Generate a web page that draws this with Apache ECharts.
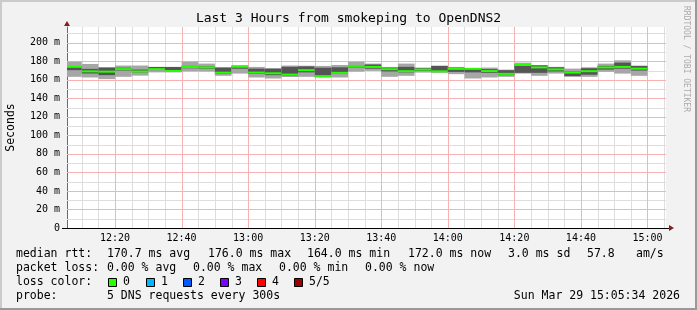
<!DOCTYPE html>
<html><head><meta charset="utf-8">
<script src="https://cdn.jsdelivr.net/npm/echarts@6/dist/echarts.min.js"></script>
<style>html,body{margin:0;padding:0;background:#f2f2f2}#c{width:697px;height:310px}</style>
</head><body><div id="c"></div>
<script>
// ---- data (ms) ----
const stepEnds = ['12:10','12:15','12:20','12:25','12:30','12:35','12:40','12:45','12:50','12:55',
  '13:00','13:05','13:10','13:15','13:20','13:25','13:30','13:35','13:40','13:45',
  '13:50','13:55','14:00','14:05','14:10','14:15','14:20','14:25','14:30','14:35',
  '14:40','14:45','14:50','14:55','15:00'];
const maxRtt = [179.6,177.1,173.5,175.4,175.4,174.0,174.0,179.6,177.5,173.5,
  175.7,173.9,172.5,175.4,175.2,175.0,176.0,179.5,177.5,173.9,
  177.5,173.2,175.2,173.9,172.8,173.2,171.0,178.5,176.0,174.0,
  172.1,173.5,177.5,181.0,175.2];
const upperRtt = [174.5,171.8,173.2,173.0,171.0,173.8,173.8,175.0,174.5,173.2,
  175.0,172.0,172.0,174.0,174.5,173.0,173.5,176.0,176.5,173.0,
  174.0,172.5,175.0,173.0,172.2,171.5,170.4,177.0,175.5,173.5,
  169.0,172.5,175.0,178.5,175.0];
const medianRtt = [174.0,169.1,168.8,171.5,169.0,171.5,169.5,173.8,173.4,167.7,
  174.1,167.8,167.0,165.6,170.4,164.0,167.5,175.0,173.9,171.4,
  169.3,171.0,169.1,171.8,171.8,169.4,166.4,176.0,173.4,171.2,
  167.8,169.3,173.4,173.9,172.0];
const lowerRtt = [170.4,166.8,165.0,170.0,168.0,170.5,168.5,172.5,172.0,166.5,
  172.0,166.5,165.0,164.5,168.0,163.0,166.5,173.5,172.0,169.0,
  168.0,169.5,168.2,168.5,168.0,167.5,165.0,167.5,167.5,169.0,
  164.0,165.5,171.0,172.0,170.0];
const minRtt = [163.2,162.5,160.7,163.2,164.5,168.0,168.0,169.0,168.9,164.3,
  166.7,162.5,161.4,163.0,163.2,162.5,162.5,168.8,169.6,163.2,
  164.3,167.8,167.8,166.1,161.4,162.5,163.2,166.7,164.3,166.7,
  163.2,163.2,168.6,166.7,164.3];
const xTickLabels = ['12:20','12:40','13:00','13:20','13:40','14:00','14:20','14:40','15:00'];
const yTickValues = [0,20,40,60,80,100,120,140,160,180,200];
const windowStart = '12:05:34';
const windowEnd = '15:05:34';
const stepMinutes = 5;
const yMaxValue = 217;

// ---- helpers ----
function toMin(s){const p=s.split(':').map(Number);return p[0]*60+p[1]+(p[2]||0)/60;}
function fmt(m){const h=Math.floor(m/60),mm=Math.round(m-h*60);return (h<10?'0':'')+h+':'+(mm<10?'0':'')+mm;}
const xStart = toMin(windowStart), xEnd = toMin(windowEnd);
const xMajor = xTickLabels.map(toMin);
const xMinor = [];
for(let m=toMin(stepEnds[0]); m<=xEnd; m+=stepMinutes){ if(xMajor.indexOf(m)<0) xMinor.push(m); }
const yMajor = yTickValues.filter(v=>v>0);
const yMinor = [];
for(let v=10; v<=210; v+=20) yMinor.push(v);

const data = stepEnds.map((t,i)=>{const e=toMin(t);return [e-stepMinutes,e,minRtt[i],lowerRtt[i],medianRtt[i],upperRtt[i],maxRtt[i]];});

const FONT = '"DejaVu Sans Mono", monospace';
const RED_GRID = '#f7b3b3';
const GREY_GRID = '#dedede';

function renderItem(params, api){
  const s=api.value(0), e=api.value(1);
  const xs=api.coord([s,0])[0], xe=api.coord([e,0])[0];
  const yMin=api.coord([s,api.value(2)])[1], yLo=api.coord([s,api.value(3)])[1];
  const yMed=api.coord([s,api.value(4)])[1], yUp=api.coord([s,api.value(5)])[1];
  const yMax=api.coord([s,api.value(6)])[1];
  const w=xe-xs;
  return {type:'group',children:[
    {type:'rect',shape:{x:xs,y:yMax,width:w,height:yMin-yMax},style:{fill:'#a6a6a6'}},
    {type:'rect',shape:{x:xs,y:yUp,width:w,height:yLo-yUp},style:{fill:'#555555'}},
    {type:'rect',shape:{x:xs,y:yMed-1,width:w,height:2},style:{fill:'#26ff00'}}
  ]};
}
// grid lines drawn through the axis scales
function gridRenderer(color, vertical){
  return function(params, api){
    const cs=params.coordSys;
    let shape;
    if(vertical){
      const x=Math.round(api.coord([api.value(0),0])[0])+0.5;
      shape={x1:x,y1:cs.y,x2:x,y2:cs.y+cs.height};
    } else {
      const y=Math.round(api.coord([xStart,api.value(1)])[1])+0.5;
      shape={x1:cs.x,y1:y,x2:cs.x+cs.width,y2:y};
    }
    return {type:'line',shape:shape,style:{stroke:color,lineWidth:1}};
  };
}

const txt=(x,y,text,extra)=>Object.assign({type:'text',x:x,y:y,z:10,style:{text:text,fill:'#000',font:'11.5px '+FONT,align:'left',verticalAlign:'middle'}},extra||{});
const lossColors=['#26ff00','#00b8ff','#0059ff','#7e00ff','#ff0000','#a10000'];
const lossLabels=['0','1','2','3','4','5/5'];
const boxX=[108,146,183,220,257,294];

const graphics=[
  {type:'rect',shape:{x:0,y:0,width:697,height:2},style:{fill:'#cbcbcb'},z:20},
  {type:'rect',shape:{x:0,y:0,width:2,height:310},style:{fill:'#cbcbcb'},z:20},
  {type:'rect',shape:{x:0,y:308,width:697,height:2},style:{fill:'#999999'},z:20},
  {type:'rect',shape:{x:695,y:0,width:2,height:310},style:{fill:'#999999'},z:20},
  {type:'polygon',shape:{points:[[64,26],[70,26],[67,21]]},style:{fill:'#8b1c1c'},z:10},
  {type:'polygon',shape:{points:[[669,225],[669,231],[674,228]]},style:{fill:'#8b1c1c'},z:10},
  {type:'line',shape:{x1:62,y1:228.5,x2:670,y2:228.5},style:{stroke:'#000',lineWidth:1},z:9},
  {type:'text',x:348.5,y:19,z:10,style:{text:'Last 3 Hours from smokeping to OpenDNS2',fill:'#000',font:'13px '+FONT,align:'center',verticalAlign:'middle'}},
  {type:'text',x:11,y:127.5,rotation:Math.PI/2,z:10,style:{text:'Seconds',fill:'#000',font:'11.5px '+FONT,align:'center',verticalAlign:'middle'}},
  {type:'text',x:686.5,y:59,rotation:-Math.PI/2,z:10,style:{text:'RRDTOOL / TOBI OETIKER',fill:'#ababab',font:'8px '+FONT,align:'center',verticalAlign:'middle'}},
  txt(16,254,'median rtt:'), txt(107,254,'170.7 ms avg'), txt(208,254,'176.0 ms max'), txt(307,254,'164.0 ms min'),
  txt(408,254,'172.0 ms now'), txt(508,254,'3.0 ms sd'), txt(587,254,'57.8'), txt(636,254,'am/s'),
  txt(16,268,'packet loss:'), txt(107,268,'0.00 % avg'), txt(193,268,'0.00 % max'), txt(279,268,'0.00 % min'), txt(365,268,'0.00 % now'),
  txt(16,282,'loss color:'),
  txt(16,296,'probe:'), txt(107,296,'5 DNS requests every 300s'),
  {type:'text',x:680,y:296,z:10,style:{text:'Sun Mar 29 15:05:34 2026',fill:'#000',font:'11.5px '+FONT,align:'right',verticalAlign:'middle'}}
];
lossColors.forEach((c,i)=>{
  graphics.push({type:'rect',shape:{x:boxX[i]+0.5,y:278.5,width:8,height:8},style:{fill:c,stroke:'#000',lineWidth:1},z:10});
  graphics.push(txt(boxX[i]+15,282,lossLabels[i]));
});

const chart=echarts.init(document.getElementById('c'),null,{renderer:'canvas'});
chart.setOption({
  animation:false,
  backgroundColor:'#f2f2f2',
  grid:{left:67,right:31,top:27,bottom:82,show:true,backgroundColor:'#ffffff',borderWidth:0},
  xAxis:{type:'value',min:xStart,max:xEnd,
     axisLine:{show:false},
     axisTick:{show:false,customValues:xMajor},
     axisLabel:{customValues:xMajor,formatter:fmt,color:'#000',fontFamily:'DejaVu Sans Mono',fontSize:10,margin:5},
     splitLine:{show:false}},
  yAxis:{type:'value',min:0,max:yMaxValue,
     axisLine:{show:true,lineStyle:{color:'#6a6a6a',width:1}},
     axisTick:{show:false,customValues:yTickValues},
     axisLabel:{customValues:yTickValues,formatter:v=>v===0?'0':v+' m',color:'#000',fontFamily:'DejaVu Sans Mono',fontSize:10,margin:7},
     splitLine:{show:false}},
  series:[
    {type:'custom',silent:true,renderItem:gridRenderer(GREY_GRID,true),data:xMinor.map(v=>[v,0]),encode:{x:0,y:1},z:1},
    {type:'custom',silent:true,renderItem:gridRenderer(GREY_GRID,false),data:yMinor.map(v=>[xStart,v]),encode:{x:0,y:1},z:1},
    {type:'custom',silent:true,renderItem:gridRenderer(RED_GRID,true),data:xMajor.map(v=>[v,0]),encode:{x:0,y:1},z:2},
    {type:'custom',silent:true,renderItem:gridRenderer(RED_GRID,false),data:yMajor.map(v=>[xStart,v]),encode:{x:0,y:1},z:2},
    {type:'custom',renderItem:renderItem,clip:true,data:data,encode:{x:[0,1],y:[2,3,4,5,6]},z:5}
  ],
  graphic:graphics
});
</script></body></html>
